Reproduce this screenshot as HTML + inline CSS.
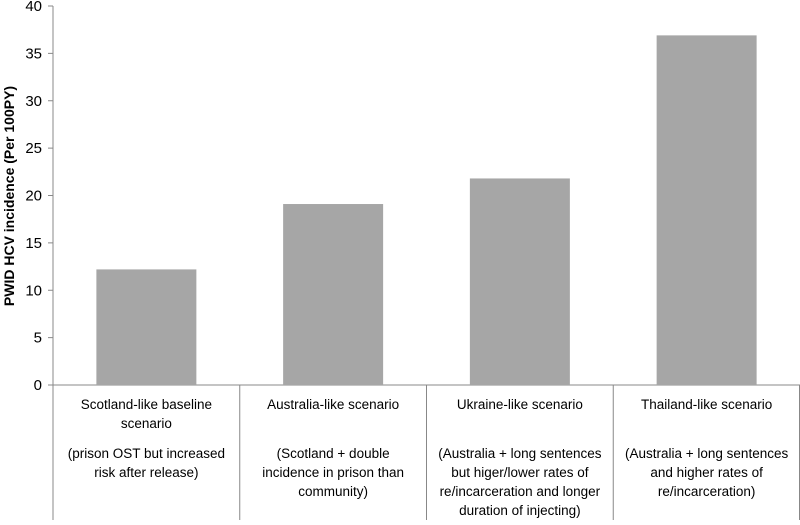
<!DOCTYPE html>
<html><head><meta charset="utf-8"><style>
body{margin:0;background:#fff}
svg text{font-family:"Liberation Sans",sans-serif;fill:#000}
</style></head><body>
<svg id="c" width="800" height="520"></svg>
<script>
const categories=[["Scotland-like baseline","scenario"],["Australia-like scenario"],["Ukraine-like scenario"],["Thailand-like scenario"]];
const notes=[["(prison OST but increased","risk after release)"],["(Scotland + double","incidence in prison than","community)"],["(Australia + long sentences","but higer/lower rates of","re/incarceration and longer","duration of injecting)"],["(Australia + long sentences","and higher rates of","re/incarceration)"]];
const values=[12.2,19.1,21.8,36.9];
const yTicks=[0,5,10,15,20,25,30,35,40];
const svg=document.getElementById('c');const NS='http://www.w3.org/2000/svg';
const X0=53,X1=800,Y0=385,Y1=6,YMAX=40;
const y=v=>Y0-(v/YMAX)*(Y0-Y1);
const cw=(X1-X0)/categories.length;
const xc=i=>X0+cw*(i+0.5);
function mk(t,a){const e=document.createElementNS(NS,t);for(const k in a)e.setAttribute(k,a[k]);svg.appendChild(e);return e;}
let e=mk('line',{x1:X0,y1:Y1,x2:X0,y2:520,stroke:'#888','stroke-width':1});


e=mk('line',{x1:X0,y1:Y0,x2:X1,y2:Y0,stroke:'#888','stroke-width':1});


yTicks.forEach(v=>{
 let t=mk('line',{x1:X0-5,y1:y(v),x2:X0,y2:y(v),stroke:'#888'});
 
 
 let l=mk('text',{x:X0-11,y:y(v)+5,'text-anchor':'end','font-size':15});l.textContent=v;
 
 
});
values.forEach((v,i)=>{
 let b=mk('rect',{x:xc(i)-50,y:y(v),width:100,height:Y0-y(v),fill:'#a6a6a6'});
 
 
 if(i>0){let d=mk('line',{x1:X0+cw*i,y1:Y0,x2:X0+cw*i,y2:520,stroke:'#888'});
 
 }
 categories[i].forEach((s,j)=>{let t=mk('text',{x:xc(i),y:409+j*19,'text-anchor':'middle','font-size':13.5});t.textContent=s;
 
 });
 notes[i].forEach((s,j)=>{let t=mk('text',{x:xc(i),y:458+j*19,'text-anchor':'middle','font-size':13.5});t.textContent=s;
 
 });
});
let d=mk('line',{x1:799.5,y1:Y0,x2:799.5,y2:520,stroke:'#888'});


let yt=mk('text',{x:0,y:0,'text-anchor':'middle','font-size':14,'font-weight':'bold',transform:'translate(14,196) rotate(-90)'});
yt.textContent='PWID HCV incidence  (Per 100PY)';


</script>
</body></html>
